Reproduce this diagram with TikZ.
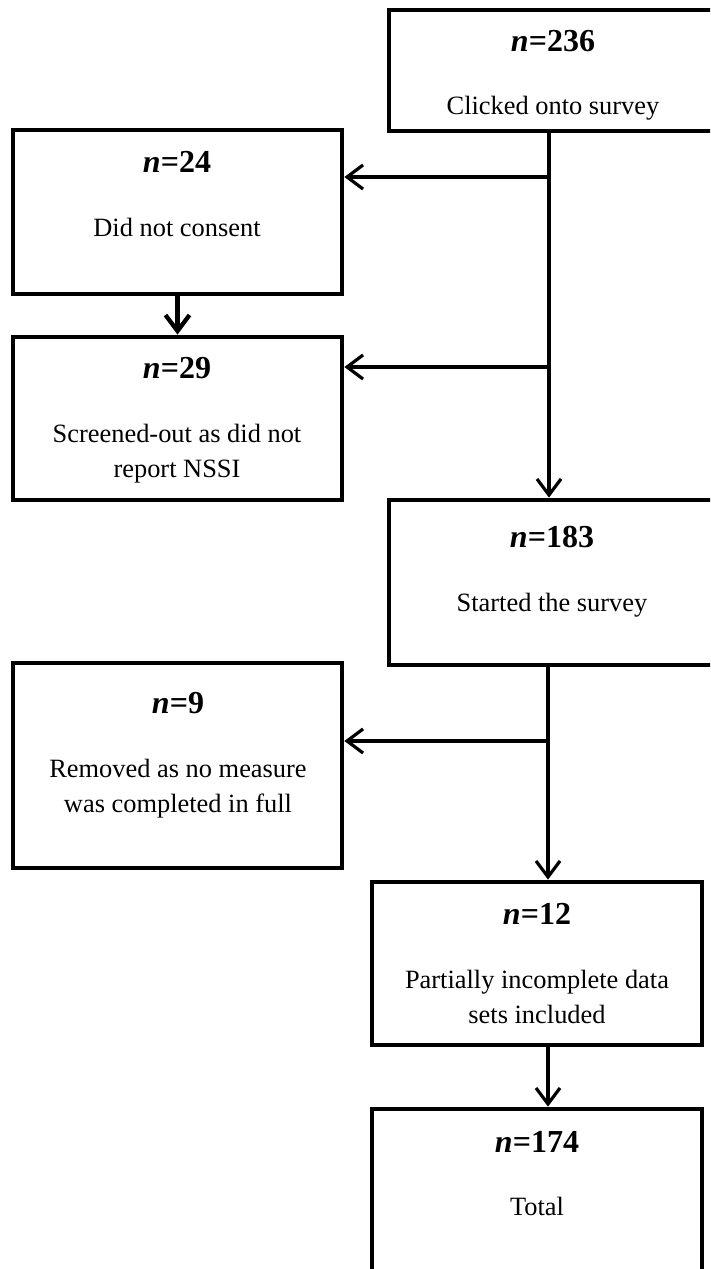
\documentclass[tikz,border=0pt]{standalone}
\usepackage{fontspec}
\setmainfont{Liberation Serif}
\usetikzlibrary{arrows.meta}
\begin{document}
\begin{tikzpicture}[x=0.75pt,y=-0.75pt,
    box/.style={draw, rectangle, line width=3.6pt, inner sep=0pt, minimum width=246.75pt},
    head/.style={anchor=base, font=\fontsize{24}{29}\selectfont\bfseries},
    body/.style={anchor=base, align=center, font=\fontsize{19.8}{26.25}\selectfont},
    link/.style={line width=2.4pt, -{Straight Barb[length=12pt,width=18pt]}}]
      \useasboundingbox (0,0) rectangle (710,1269);
      \clip (0,0) rectangle (710,1269);
      \draw
        (551,70.5) node[box, minimum width=243pt, minimum height=90.75pt] (b236){}
        (177.5,212) node[box, minimum height=123pt] (b24){}
        (177.5,418.5) node[box, minimum height=122.25pt] (b29){}
        (551,582.5) node[box, minimum width=243pt, minimum height=123.75pt] (b183){}
        (177.5,765.5) node[box, minimum height=153.75pt] (b9){}
        (537,963.5) node[box, minimum width=247.5pt, minimum height=122.25pt] (b12){}
        (537,1199.5) node[box, minimum width=247.5pt, minimum height=135.75pt] (b174){};
      \draw
        (553,52) node[head] (h236){{\itshape n}=236}
        (553,115) node[body] (t236){Clicked onto survey}
        (177,173) node[head] (h24){{\itshape n}=24}
        (177,237) node[body] (t24){Did not consent}
        (177,378) node[head] (h29){{\itshape n}=29}
        (177,477) node[body] (t29){Screened-out as did not\\report NSSI}
        (552,547) node[head] (h183){{\itshape n}=183}
        (552,611) node[body] (t183){Started the survey}
        (178,713) node[head] (h9){{\itshape n}=9}
        (178,812) node[body] (t9){Removed as no measure\\was completed in full}
        (537,924) node[head] (h12){{\itshape n}=12}
        (537,1023) node[body] (t12){Partially incomplete data\\sets included}
        (537,1152) node[head] (h174){{\itshape n}=174}
        (537,1215) node[body] (t174){Total};
      \coordinate (j1) at (549,177);
      \coordinate (j2) at (549,367);
      \coordinate (j3) at (548,741);
      \begin{scope}[link]
        \draw (b236.south -| j1) to (b183.north -| j1);
        \draw (j1) to (j1 -| b24.east);
        \draw (j2) to (j2 -| b29.east);
        \draw[line width=3.2pt] (b24) to (b29);
        \draw (b183.south -| j3) to (b12.north -| j3);
        \draw (j3) to (j3 -| b9.east);
        \draw (b12.south -| j3) to (b174.north -| j3);
      \end{scope}
    \end{tikzpicture}
\end{document}
